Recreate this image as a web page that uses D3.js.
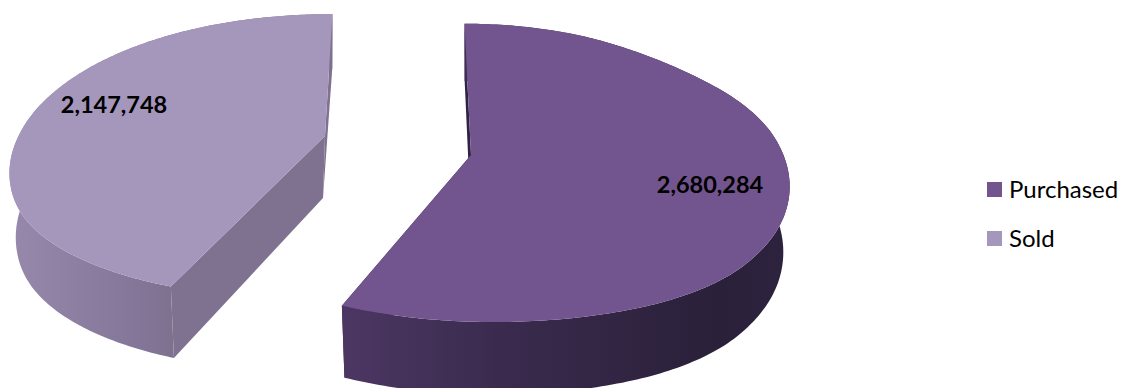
<!DOCTYPE html>
<html>
<head>
<meta charset="utf-8">
<script src="https://cdn.jsdelivr.net/npm/d3@7"></script>
<style>
  html, body { margin: 0; padding: 0; background: #fff; }
  svg { display: block; }
  text { font-family: Lato, "Noto Sans", sans-serif; fill: #000; }
</style>
</head>
<body>
<svg id="chart" width="1140" height="388"></svg>
<script>
// Deal volumes by side
const categories = ["Purchased", "Sold"];
const values = [2680284, 2147748];
const topColors = ["#72558F", "#A596BB"];
const sideColors = ["#2E2344", "#7F7290"];
const wallStops = [
  ["#4C3763", "#3A2B4E", "#2A2039", "#2D2340"],
  ["#9688AB", "#84779A", "#7E718F", "#7E718F"]
];

// Tilted-disc view of each exploded slice: centre, radii, foreshortening, a
// slight angular stretch, and a sideways drift keyed on the angle around the rim.
const views = [
  { cx: 471, cy: 155, rx: 320, ry: 147, k: 0.12, depth: 64, stretch: 1.021,
    driftAt: [0, 22, 47, 70, 97, 122, 147, 165, 180, 195, 204],
    drift: [-5, -15, -27, -13, -6, 10, 32, 30, 22, 20, 16],
    wallX: [340, 500, 720, 790], label: [710, 185], lowerShift: 0 },
  { cx: 325, cy: 136, rx: 315, ry: 139, k: 0.14, depth: 62, stretch: 1,
    driftAt: [200, 227, 260, 282, 306, 360],
    drift: [-32, -23, 5, 13, 14, 7],
    wallX: [15, 130, 175, 330], label: [114, 105], lowerShift: -2 }
];

const svg = d3.select("#chart");
const defs = svg.append("defs");
const fmt = d3.format(",");
const arcs = d3.pie().sort(null).value(d => d)(values);
const line = d3.line();
const toDegrees = r => r * 180 / Math.PI;
const smoothing = d3.range(-12, 13, 2);

views.forEach((view, i) => {
  const driftScale = d3.scaleLinear().domain(view.driftAt).range(view.drift).clamp(true);
  // Averaging over a small window keeps the rim free of corners between knots
  const drift = deg => d3.mean(smoothing, o => driftScale(deg + o));

  const rimPoint = (angle, lower) => {
    const a = angle * view.stretch;
    const u = Math.sin(a), v = Math.cos(a), p = 1 / (1 + view.k * v);
    const x = view.rx * u * p + drift(toDegrees(a));
    const y = -view.ry * v * p;
    return lower
      ? [view.cx + x * 0.98, view.cy + y + view.depth * p]
      : [view.cx + x, view.cy + y];
  };
  const centre = lower => lower
    ? [view.cx + view.lowerShift, view.cy + view.depth]
    : [view.cx, view.cy];

  const { startAngle, endAngle } = arcs[i];
  const angles = d3.range(0, 241).map(t => startAngle + (endAngle - startAngle) * t / 240);
  const upper = angles.map(a => rimPoint(a, false));
  const lower = angles.map(a => rimPoint(a, true));

  const gradId = "wall-" + i;
  const grad = defs.append("linearGradient").attr("id", gradId)
    .attr("gradientUnits", "userSpaceOnUse")
    .attr("x1", view.wallX[0]).attr("x2", view.wallX[3]).attr("y1", 0).attr("y2", 0);
  wallStops[i].forEach((c, j) => grad.append("stop")
    .attr("offset", (view.wallX[j] - view.wallX[0]) / (view.wallX[3] - view.wallX[0]))
    .attr("stop-color", c));

  const g = svg.append("g").attr("class", "slice");

  // Flat cut faces along the two radii
  [0, angles.length - 1].forEach(n => {
    g.append("path")
      .attr("d", line([upper[n], centre(false), centre(true), lower[n]]) + "Z")
      .attr("fill", sideColors[i]);
  });

  // Curved outer wall
  g.append("path")
    .attr("d", line(upper.concat(lower.slice().reverse())) + "Z")
    .attr("fill", `url(#${gradId})`);

  // Top face
  g.append("path")
    .attr("d", line([centre(false)].concat(upper)) + "Z")
    .attr("fill", topColors[i]);

  g.append("text")
    .attr("x", view.label[0]).attr("y", view.label[1] + 8)
    .attr("text-anchor", "middle")
    .attr("font-size", 23.5).attr("font-weight", 700)
    .text(fmt(values[i]));
});

// Legend
const legendY = d3.scalePoint().domain(categories).range([189.5, 238.5]);
const legend = svg.append("g").selectAll("g").data(categories).join("g")
  .attr("transform", d => `translate(987,${legendY(d)})`);
legend.append("rect")
  .attr("y", -7.5).attr("width", 15).attr("height", 15)
  .attr("fill", (d, i) => topColors[i]);
legend.append("text")
  .attr("x", 22).attr("y", 8)
  .attr("font-size", 24)
  .text(d => d);
</script>
</body>
</html>
